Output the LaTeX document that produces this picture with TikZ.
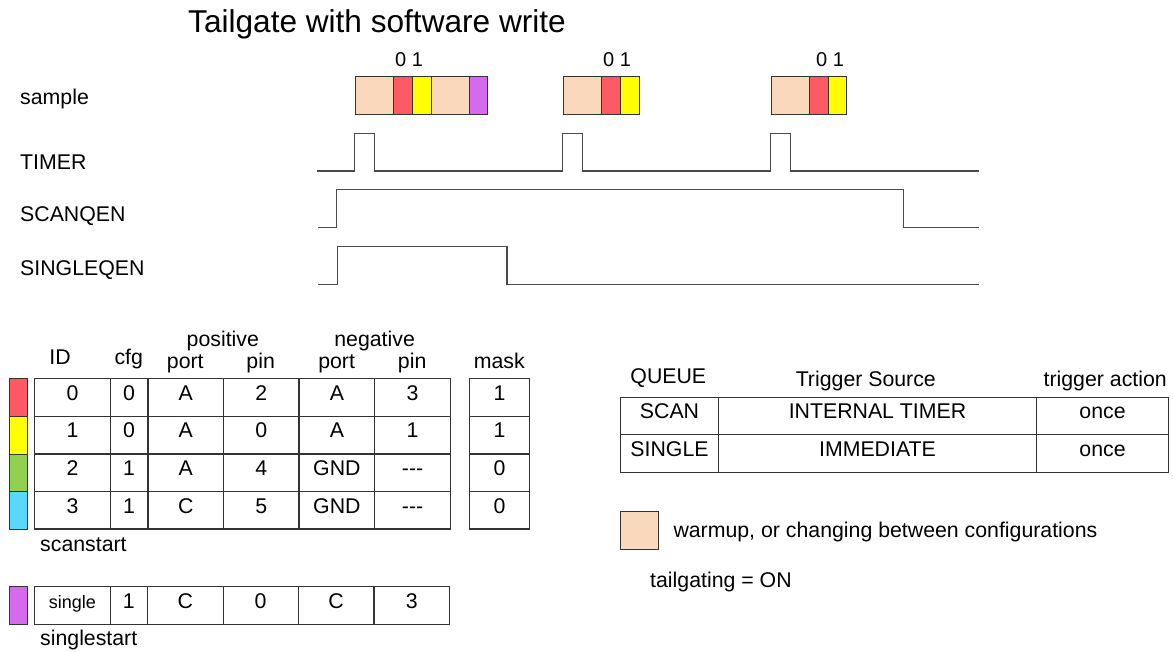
\documentclass[tikz,border=0pt]{standalone}
\usepackage{fontspec}
\setmainfont{Liberation Sans}
\definecolor{peach}{HTML}{FAD8BC}
\definecolor{sred}{HTML}{FF5A64}
\definecolor{syellow}{HTML}{FFFF00}
\definecolor{spurple}{HTML}{D66AEE}
\definecolor{sgreen}{HTML}{92D050}
\definecolor{sblue}{HTML}{5AD8FA}
\definecolor{wave}{HTML}{4A4A4A}
\definecolor{edge}{HTML}{333333}
\tikzset{
  txt/.style={font=\fontsize{21.3}{25}\selectfont, inner sep=0pt},
  titletxt/.style={font=\fontsize{31.6}{36}\selectfont, inner sep=0pt},
  cellst/.style={draw=edge, line width=1.1pt, inner sep=0pt, text height=0.716em, text depth=1.5pt, font=\fontsize{21.3}{25}\selectfont},
  smallcell/.style={cellst, font=\fontsize{18}{22}\selectfont},
  swatch/.style={draw=edge, line width=1pt, inner sep=0pt},
  wavest/.style={draw=wave, line width=1.3pt, line join=miter},
}
\newcommand\mycell[7][cellst]{%
  \node[#1, minimum width={(#5)-(#3)}, minimum height={(#6)-(#4)}] (#2) at ({((#3)+(#5))/2},{((#4)+(#6))/2}) {#7};}
\newcommand\myswatch[6]{%
  \node[swatch, fill=#6, minimum width={(#4)-(#2)}, minimum height={(#5)-(#3)}] (#1) at ({((#2)+(#4))/2},{((#3)+(#5))/2}) {};}
\begin{document}
\begin{tikzpicture}[x=1pt,y=-1pt]
\useasboundingbox (0,0) rectangle (1173,652);

% title
\node[titletxt, anchor=base west] (title) at (188,33) {Tailgate with software write};

% signal labels
\node[txt, anchor=base west] (lsample) at (20,105) {sample};
\node[txt, anchor=base west] (ltimer) at (20,170) {TIMER};
\node[txt, anchor=base west] (lscan) at (20,222) {SCANQEN};
\node[txt, anchor=base west] (lsingle) at (20,275.5) {SINGLEQEN};

% sample groups
\myswatch{g1a}{355.7}{76.3}{393.3}{114.3}{peach}
\myswatch{g1b}{393.3}{76.3}{412.7}{114.3}{sred}
\myswatch{g1c}{412.7}{76.3}{431.3}{114.3}{syellow}
\myswatch{g1d}{431.3}{76.3}{469.3}{114.3}{peach}
\myswatch{g1e}{469.3}{76.3}{487.7}{114.3}{spurple}

\myswatch{g2a}{563.7}{76.3}{601.3}{114.3}{peach}
\myswatch{g2b}{601.3}{76.3}{620.7}{114.3}{sred}
\myswatch{g2c}{620.7}{76.3}{639.3}{114.3}{syellow}

\myswatch{g3a}{771}{76.3}{809.3}{114.3}{peach}
\myswatch{g3b}{809.3}{76.3}{828}{114.3}{sred}
\myswatch{g3c}{828}{76.3}{846.7}{114.3}{syellow}

\node[font=\fontsize{20}{24}\selectfont, inner sep=0pt, anchor=base west] (n1) at (395,66.7) {0 1};
\node[font=\fontsize{20}{24}\selectfont, inner sep=0pt, anchor=base west] (n2) at (603,66.7) {0 1};
\node[font=\fontsize{20}{24}\selectfont, inner sep=0pt, anchor=base west] (n3) at (816,66.7) {0 1};

% waveforms
\draw[wavest] (316.7,171) -- (354.7,171) -- (354.7,133.3) -- (374.7,133.3) -- (374.7,171)
  -- (562.7,171) -- (562.7,133.3) -- (582.7,133.3) -- (582.7,171)
  -- (770.3,171) -- (770.3,133.3) -- (790.7,133.3) -- (790.7,171) -- (978.7,171);
\draw[wavest] (318,227.5) -- (336.5,227.5) -- (336.5,189.7) -- (903.7,189.7) -- (903.7,227.5) -- (979.3,227.5);
\draw[wavest] (318,284.3) -- (337.7,284.3) -- (337.7,246.7) -- (507,246.7) -- (507,284.3) -- (979.3,284.3);

% left table headers
\node[txt, anchor=base] (hid) at (60,365) {ID};
\node[txt, anchor=base] (hcfg) at (128.8,364) {cfg};
\node[txt, anchor=base] (hpos) at (222.8,346.7) {positive};
\node[txt, anchor=base] (hpport) at (185.3,368.3) {port};
\node[txt, anchor=base] (hppin) at (260.7,368.3) {pin};
\node[txt, anchor=base] (hneg) at (374.6,346.7) {negative};
\node[txt, anchor=base] (hnport) at (336.6,368.3) {port};
\node[txt, anchor=base] (hnpin) at (412.2,368.3) {pin};
\node[txt, anchor=base] (hmask) at (499.3,368) {mask};

% colour strip
\myswatch{s0}{9.3}{378.7}{27.7}{416.3}{sred}
\myswatch{s1}{9.3}{416.3}{27.7}{454}{syellow}
\myswatch{s2}{9.3}{454}{27.7}{491.7}{sgreen}
\myswatch{s3}{9.3}{491.7}{27.7}{529}{sblue}

% left table rows
\def\cA{34.7}\def\cB{110.2}\def\cC{148}\def\cD{223.4}\def\cE{299}\def\cF{374.7}\def\cG{450.4}
\def\mA{469.4}\def\mB{529.6}
% row 0
\mycell{r0a}{\cA}{378.7}{\cB}{416.3}{0}
\mycell{r0b}{\cB}{378.7}{\cC}{416.3}{0}
\mycell{r0c}{\cC}{378.7}{\cD}{416.3}{A}
\mycell{r0d}{\cD}{378.7}{\cE}{416.3}{2}
\mycell{r0e}{\cE}{378.7}{\cF}{416.3}{A}
\mycell{r0f}{\cF}{378.7}{\cG}{416.3}{3}
\mycell{r0m}{\mA}{378.7}{\mB}{416.3}{1}
% row 1
\mycell{r1a}{\cA}{416.3}{\cB}{454}{1}
\mycell{r1b}{\cB}{416.3}{\cC}{454}{0}
\mycell{r1c}{\cC}{416.3}{\cD}{454}{A}
\mycell{r1d}{\cD}{416.3}{\cE}{454}{0}
\mycell{r1e}{\cE}{416.3}{\cF}{454}{A}
\mycell{r1f}{\cF}{416.3}{\cG}{454}{1}
\mycell{r1m}{\mA}{416.3}{\mB}{454}{1}
% row 2
\mycell{r2a}{\cA}{454}{\cB}{491.7}{2}
\mycell{r2b}{\cB}{454}{\cC}{491.7}{1}
\mycell{r2c}{\cC}{454}{\cD}{491.7}{A}
\mycell{r2d}{\cD}{454}{\cE}{491.7}{4}
\mycell{r2e}{\cE}{454}{\cF}{491.7}{GND}
\mycell{r2f}{\cF}{454}{\cG}{491.7}{-{}-{}-}
\mycell{r2m}{\mA}{454}{\mB}{491.7}{0}
% row 3
\mycell{r3a}{\cA}{491.7}{\cB}{529}{3}
\mycell{r3b}{\cB}{491.7}{\cC}{529}{1}
\mycell{r3c}{\cC}{491.7}{\cD}{529}{C}
\mycell{r3d}{\cD}{491.7}{\cE}{529}{5}
\mycell{r3e}{\cE}{491.7}{\cF}{529}{GND}
\mycell{r3f}{\cF}{491.7}{\cG}{529}{-{}-{}-}
\mycell{r3m}{\mA}{491.7}{\mB}{529}{0}

\node[txt, anchor=base west] (scanstart) at (40,551.7) {scanstart};

% single row
\myswatch{sp}{9.3}{586.3}{27.7}{624}{spurple}
\mycell[smallcell]{sa}{\cA}{586.7}{\cB}{624.3}{single}
\mycell{sb}{\cB}{586.7}{147.4}{624.3}{1}
\mycell{sc}{147.4}{586.7}{223.1}{624.3}{C}
\mycell{sd}{223.1}{586.7}{298.2}{624.3}{0}
\mycell{se}{298.2}{586.7}{374}{624.3}{C}
\mycell{sf}{374}{586.7}{449.7}{624.3}{3}
\node[txt, anchor=base west] (singlestart) at (40,645) {singlestart};

% right table
\node[txt, anchor=base] (hq) at (668.3,383) {QUEUE};
\node[txt, anchor=base] (hts) at (865.8,386) {Trigger Source};
\node[txt, anchor=base] (hta) at (1105.2,386) {trigger action};
\mycell{q1a}{620.7}{397.3}{718.3}{434.7}{SCAN}
\mycell{q1b}{718.3}{397.3}{1036.7}{434.7}{INTERNAL TIMER}
\mycell{q1c}{1036.7}{397.3}{1168.3}{434.7}{once}
\mycell{q2a}{620.7}{434.7}{718.3}{472.3}{SINGLE}
\mycell{q2b}{718.3}{434.7}{1036.7}{472.3}{IMMEDIATE}
\mycell{q2c}{1036.7}{434.7}{1168.3}{472.3}{once}

% legend
\myswatch{leg}{620.7}{511}{658.7}{549}{peach}
\node[txt, anchor=base west] (legtxt) at (673.3,537.3) {warmup, or changing between configurations};
\node[txt, anchor=base west] (tail) at (650,587.3) {tailgating = ON};
\end{tikzpicture}
\end{document}
